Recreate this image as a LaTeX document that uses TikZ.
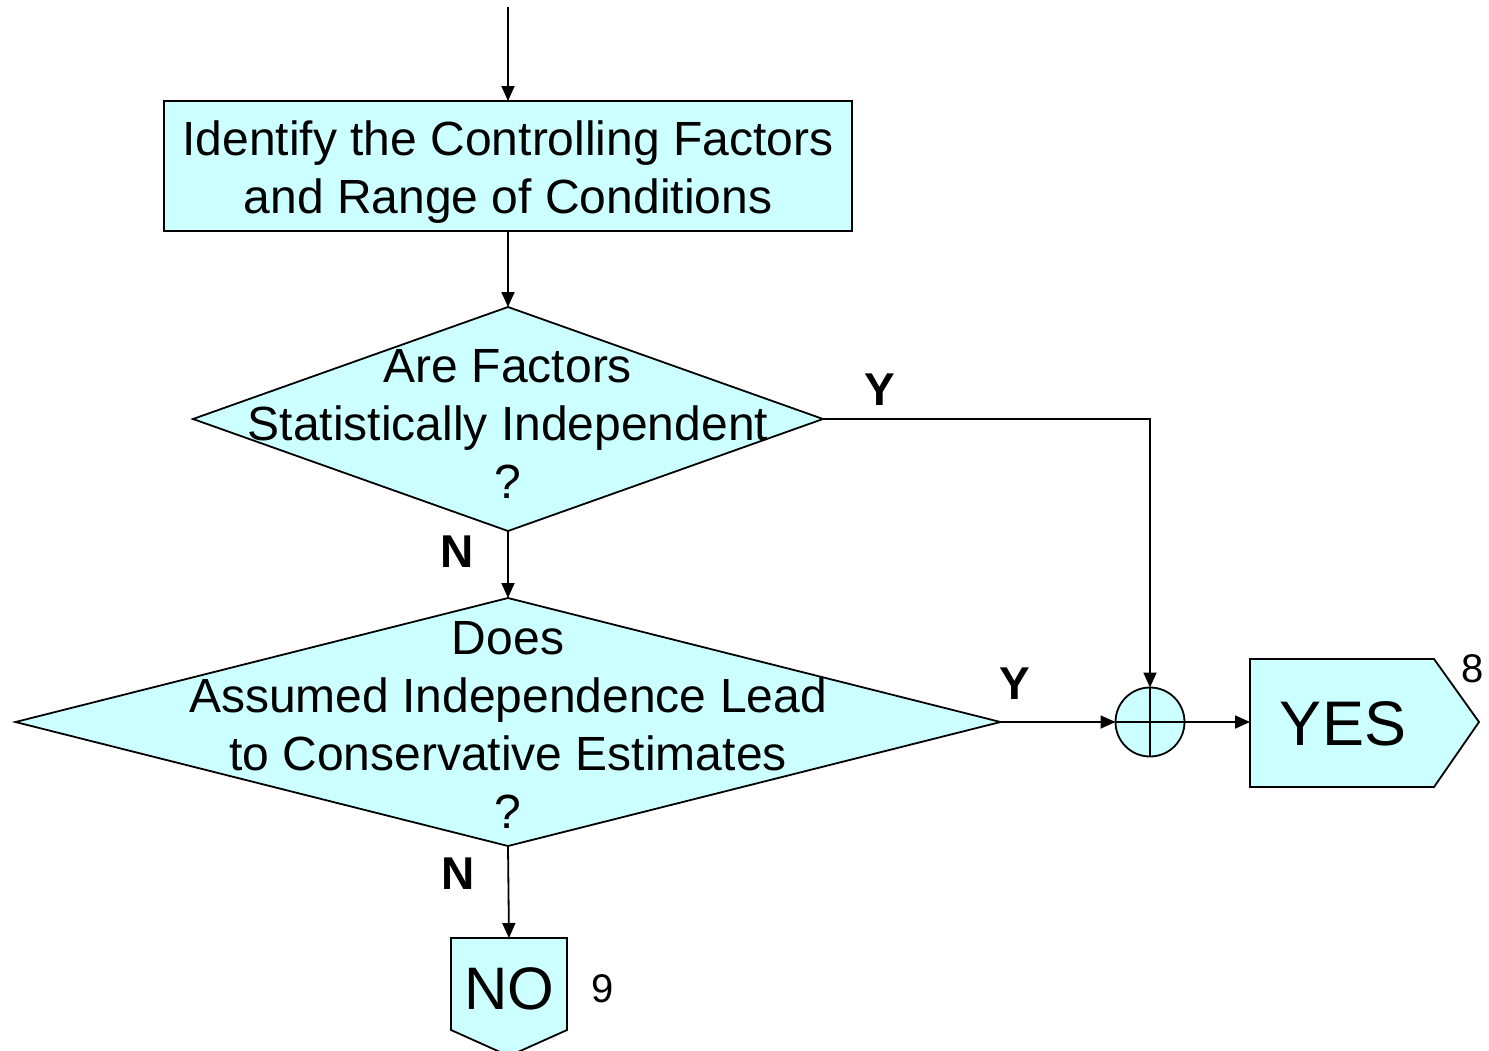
\documentclass[tikz,border=0pt]{standalone}
\usepackage{fontspec}
\setmainfont{Liberation Sans}
\usetikzlibrary{arrows.meta,shapes.geometric}
\definecolor{boxfill}{HTML}{CCFFFF}
\begin{document}
\begin{tikzpicture}[x=1pt,y=-1pt,
  line width=1.8pt,
  arr/.style={-{Triangle[length=15pt,width=13pt]}},
  shp/.style={draw, fill=boxfill},
  txt/.style={font=\fontsize{48}{58}\selectfont, align=center, inner sep=0pt},
  lbl/.style={font=\fontsize{46}{50}\selectfont\bfseries, inner sep=0pt},
  num/.style={font=\fontsize{40}{44}\selectfont, inner sep=0pt}]
\useasboundingbox (0,0) rectangle (1489,1050);

\coordinate (start) at (508,7);
\node[shp, minimum width=688pt, minimum height=130pt, inner sep=0pt, outer sep=0pt] (box) at (508,166) {};
\node[txt] (t0) at (508,172) {Identify the Controlling Factors\\and Range of Conditions};

\node[shp, diamond, minimum width=630pt, minimum height=224pt, inner sep=0pt, outer sep=0pt] (d1) at (508,419) {};
\node[txt] (t1) at (508,424) {Are Factors\\Statistically Independent\\?};

\node[shp, diamond, minimum width=985pt, minimum height=248pt, inner sep=0pt, outer sep=0pt] (d2) at (508,722) {};
\node[txt] (t2) at (508,725) {Does\\Assumed Independence Lead\\to Conservative Estimates\\?};

\node[shp, circle, minimum size=69pt, inner sep=0pt, outer sep=0pt] (cp) at (1150,722) {};
\draw (cp.north) -- (cp.south) (cp.west) -- (cp.east);

\draw[shp] (1250,659) -- (1434,659) -- (1479,722) -- (1434,787) -- (1250,787) -- cycle;
\coordinate (yesin) at (1250,722);
\node[font=\fontsize{63}{70}\selectfont, inner sep=0pt] (yes) at (1343,724) {YES};
\node[num] (n8) at (1473,669) {8};

\draw[shp] (451,938) -- (567,938) -- (567,1030) -- (509,1056) -- (451,1030) -- cycle;
\coordinate (noin) at (509,938);
\node[font=\fontsize{60}{66}\selectfont, inner sep=0pt] (no) at (509,989) {NO};
\node[num] (n9) at (603,989) {9};

\draw[arr] (start) -- (box.north);
\draw[arr] (box.south) -- (d1.north);
\draw[arr] (d1.south) -- (d2.north);
\draw[arr] (d1.east) -| (cp.north);
\draw[arr] (d2.east) -- (cp.west);
\draw[arr] (cp.east) -- (yesin);
\draw[arr] (d2.south) -- (noin);

\node[lbl] (y1) at (880,390) {Y};
\node[lbl] (y2) at (1015,684) {Y};
\node[lbl] (nn1) at (457,552) {N};
\node[lbl] (nn2) at (458,874) {N};
\end{tikzpicture}
\end{document}
